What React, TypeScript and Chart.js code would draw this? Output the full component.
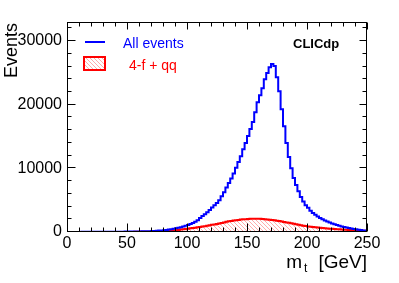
import React, { useEffect, useRef } from 'react';
import { Chart, registerables } from 'chart.js';

Chart.register(...registerables);

// Histogram: 125 bins of 2 GeV from 0 to 250 GeV
const BIN_WIDTH = 2;

const allEvents = [
  10, 10, 10, 10, 15, 15, 15, 20, 20, 20,
  25, 25, 25, 30, 30, 30, 35, 35, 40, 40,
  45, 45, 50, 50, 55, 60, 60, 65, 70, 75,
  80, 90, 100, 110, 120, 135, 150, 170, 190, 220,
  250, 290, 330, 380, 440, 500, 570, 650, 740, 850,
  970, 1100, 1250, 1420, 1600, 1850, 2200, 2500, 2800, 3100,
  3450, 3850, 4200, 4550, 5000, 5600, 6250, 7000, 7700, 8400,
  9200, 10100, 11000, 11900, 13000, 14000, 15100, 16200, 17300, 18800,
  20400, 21500, 22600, 24000, 25000, 25900, 26400, 26100, 24300, 22100,
  19300, 16600, 14000, 11800, 10000, 8500, 7400, 6400, 5500, 4800,
  4200, 3800, 3350, 3000, 2700, 2450, 2200, 2000, 1800, 1650,
  1500, 1350, 1220, 1100, 980, 880, 790, 700, 620, 550,
  480, 420, 360, 300, 250,
];

const fourFermionQQ = [
  5, 5, 5, 5, 5, 5, 5, 5, 5, 5,
  5, 5, 5, 5, 5, 5, 5, 5, 5, 5,
  8, 8, 10, 10, 12, 12, 15, 15, 18, 20,
  22, 25, 28, 32, 36, 40, 50, 60, 75, 90,
  110, 130, 155, 180, 215, 250, 290, 330, 375, 420,
  470, 520, 575, 630, 685, 740, 800, 860, 920, 980,
  1050, 1120, 1190, 1270, 1340, 1420, 1510, 1600, 1670, 1730,
  1790, 1850, 1900, 1950, 1990, 2020, 2050, 2080, 2090, 2100,
  2090, 2080, 2050, 2020, 1980, 1940, 1890, 1840, 1780, 1720,
  1650, 1580, 1510, 1440, 1370, 1300, 1220, 1150, 1070, 1000,
  940, 880, 830, 780, 740, 700, 665, 630, 595, 560,
  530, 500, 470, 440, 415, 390, 365, 340, 320, 300,
  280, 260, 240, 220, 200,
];

const xTickLabels = [0, 50, 100, 150, 200, 250];
const yTickLabels = [0, 10000, 20000, 30000];
const X_MINOR_STEP = 10;
const Y_MINOR_STEP = 2000;
const X_MIN = 0;
const X_MAX = 250;
const Y_MIN = 0;
const Y_MAX = 33000;

const legendAll = 'All events';
const legendBkg = '4-f + qq';
const yTitle = 'Events';
const xTitleMain = 'm';
const xTitleSub = 't';
const xTitleUnit = '[GeV]';
const tagText = 'CLICdp';

const FONT = "'Liberation Sans', Arial, Helvetica, sans-serif";
const BLUE = '#0000ff';
const RED = '#ff0000';

function toSteps(values: number[]) {
  const pts = values.map((v, i) => ({ x: i * BIN_WIDTH, y: v }));
  pts.push({ x: values.length * BIN_WIDTH, y: values[values.length - 1] });
  return pts;
}

function makeHatch(): CanvasPattern | string {
  const c = document.createElement('canvas');
  const s = 4;
  c.width = s;
  c.height = s;
  const g = c.getContext('2d');
  if (!g) return 'rgba(255,0,0,0.3)';
  g.strokeStyle = 'rgba(255,70,70,0.45)';
  g.lineWidth = 1;
  g.beginPath();
  g.moveTo(0, 0);
  g.lineTo(s, s);
  g.moveTo(-1, s - 1);
  g.lineTo(1, s + 1);
  g.moveTo(s - 1, -1);
  g.lineTo(s + 1, 1);
  g.stroke();
  return g.createPattern(c, 'repeat') || 'rgba(255,0,0,0.3)';
}

export default function App() {
  const ref = useRef<HTMLCanvasElement | null>(null);

  useEffect(() => {
    const canvas = ref.current;
    if (!canvas) return;
    const hatch = makeHatch();

    const rootFrame = {
      id: 'rootFrame',
      afterDraw(chart: any) {
        const { ctx, chartArea: a, scales } = chart;
        const xs = scales.x;
        const ys = scales.y;
        ctx.save();
        ctx.strokeStyle = '#000';
        ctx.lineWidth = 1;
        const L = Math.round(a.left) + 0.5;
        const R = Math.round(a.right) - 0.5;
        const T = Math.round(a.top) + 0.5;
        const B = Math.round(a.bottom) - 0.5;
        ctx.beginPath();
        // x ticks (bottom and top)
        for (let v = X_MIN; v <= X_MAX; v += X_MINOR_STEP) {
          const major = xTickLabels.includes(v);
          const px = Math.round(xs.getPixelForValue(v)) + 0.5;
          const lenB = major ? 8 : 4;
          const lenT = major ? 7 : 4;
          ctx.moveTo(px, B);
          ctx.lineTo(px, B - lenB);
          ctx.moveTo(px, T);
          ctx.lineTo(px, T + lenT);
        }
        // y ticks (left and right)
        for (let v = Y_MIN; v <= Y_MAX; v += Y_MINOR_STEP) {
          const major = yTickLabels.includes(v);
          const py = Math.round(ys.getPixelForValue(v)) - 0.5;
          const lenL = major ? 8 : 4;
          const lenR = major ? 7 : 4;
          ctx.moveTo(L, py);
          ctx.lineTo(L + lenL, py);
          ctx.moveTo(R, py);
          ctx.lineTo(R - lenR, py);
        }
        ctx.stroke();
        ctx.strokeRect(L, T, R - L, B - T);

        // Y title
        ctx.fillStyle = '#000';
        ctx.save();
        ctx.translate(17, a.top + 1);
        ctx.rotate(-Math.PI / 2);
        ctx.font = `18px ${FONT}`;
        ctx.textAlign = 'right';
        ctx.textBaseline = 'alphabetic';
        ctx.fillText(yTitle, 0, 0);
        ctx.restore();

        // X title with subscript
        ctx.textBaseline = 'alphabetic';
        ctx.textAlign = 'left';
        const big = `19px ${FONT}`;
        const small = `12px ${FONT}`;
        ctx.font = big;
        const wm = ctx.measureText(xTitleMain).width;
        const wu = ctx.measureText(xTitleUnit).width;
        ctx.font = small;
        const wt = ctx.measureText(xTitleSub).width;
        const gap = 11;
        const right = a.right;
        const base = 268;
        const xu = right - wu;
        const xt = xu - gap - wt;
        const xm = xt - 2 - wm;
        ctx.font = big;
        ctx.fillText(xTitleMain, xm, base);
        ctx.fillText(xTitleUnit, xu, base);
        ctx.font = small;
        ctx.fillText(xTitleSub, xt, base + 4);

        // Legend
        ctx.strokeStyle = BLUE;
        ctx.lineWidth = 2;
        ctx.beginPath();
        ctx.moveTo(85, 42);
        ctx.lineTo(105, 42);
        ctx.stroke();
        ctx.font = `14px ${FONT}`;
        ctx.fillStyle = BLUE;
        ctx.fillText(legendAll, 123, 48);

        ctx.fillStyle = hatch as any;
        ctx.fillRect(84, 57, 21, 13);
        ctx.strokeStyle = RED;
        ctx.lineWidth = 2;
        ctx.strokeRect(84, 57, 21, 13);
        ctx.fillStyle = RED;
        ctx.fillText(legendBkg, 129, 70);

        // Tag
        ctx.fillStyle = '#000';
        ctx.font = `bold 13px ${FONT}`;
        ctx.fillText(tagText, 293, 48);
        ctx.restore();
      },
    };

    const chart = new Chart(canvas, {
      type: 'line',
      data: {
        datasets: [
          {
            label: legendAll,
            data: toSteps(allEvents),
            stepped: 'after',
            borderColor: BLUE,
            borderWidth: 2,
            pointRadius: 0,
            fill: false,
            order: 0,
          },
          {
            label: legendBkg,
            data: toSteps(fourFermionQQ),
            stepped: 'after',
            borderColor: RED,
            borderWidth: 2,
            pointRadius: 0,
            backgroundColor: hatch as any,
            fill: 'origin',
            order: 1,
          },
        ],
      },
      options: {
        animation: false,
        responsive: false,
        devicePixelRatio: 1,
        layout: { padding: { top: 22, right: 32, left: 0, bottom: 0 } },
        plugins: { legend: { display: false }, tooltip: { enabled: false } },
        scales: {
          x: {
            type: 'linear',
            min: X_MIN,
            max: X_MAX,
            grid: { display: false, drawTicks: false },
            border: { display: false },
            afterBuildTicks: (s: any) => {
              s.ticks = xTickLabels.map((v) => ({ value: v }));
            },
            afterFit: (s: any) => {
              s.height = 51;
            },
            ticks: {
              padding: 2,
              color: '#000',
              font: { family: FONT, size: 16 },
              maxRotation: 0,
              autoSkip: false,
            },
          },
          y: {
            type: 'linear',
            min: Y_MIN,
            max: Y_MAX,
            grid: { display: false, drawTicks: false },
            border: { display: false },
            afterBuildTicks: (s: any) => {
              s.ticks = yTickLabels.map((v) => ({ value: v }));
            },
            afterFit: (s: any) => {
              s.width = 67;
            },
            ticks: {
              padding: 5,
              color: '#000',
              font: { family: FONT, size: 16 },
              callback: (v: any) => String(v),
            },
          },
        },
      },
      plugins: [rootFrame],
    } as any);

    return () => chart.destroy();
  }, []);

  return (
    <div style={{ position: 'absolute', left: 0, top: 0, width: 399, height: 283, background: '#fff' }}>
      <canvas ref={ref} width={399} height={283} style={{ display: 'block' }} />
    </div>
  );
}
